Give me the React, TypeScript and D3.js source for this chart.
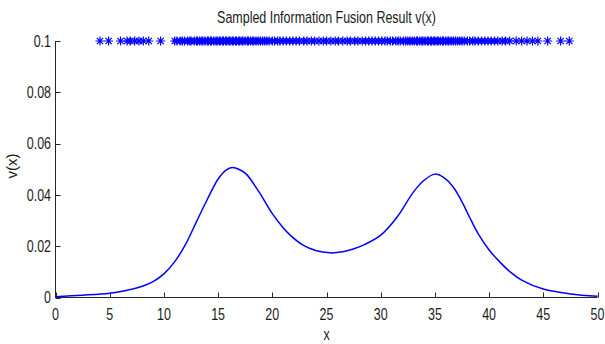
import React, { useEffect, useRef } from 'react';
import * as d3 from 'd3';

// fused density curve
const curveX = [0, 2.5, 5, 6.5, 8, 9, 10, 11, 12, 13, 14, 15, 15.7, 16.3, 17, 17.6, 18.8, 20, 21, 21.6, 22.8, 24, 25.3, 26.5, 27.4, 28.5, 30, 31.5, 33, 34, 35, 35.8, 36.7, 37.5, 38.2, 39, 40, 41, 42, 43, 45, 47.5, 50];
const curveV = [0.0003, 0.0009, 0.0017, 0.0027, 0.0044, 0.0062, 0.0092, 0.014, 0.0207, 0.0295, 0.0382, 0.0462, 0.0496, 0.0507, 0.0498, 0.0481, 0.041, 0.0327, 0.0272, 0.0245, 0.0205, 0.0183, 0.0174, 0.0178, 0.0188, 0.0206, 0.0243, 0.0313, 0.041, 0.0457, 0.0481, 0.0468, 0.043, 0.0373, 0.0313, 0.0248, 0.0185, 0.0138, 0.0098, 0.0068, 0.0033, 0.0014, 0.0005];

// sample locations drawn as asterisks at v = 0.1
const samples = [
  4.1, 4.9, 6.0, 6.6, 6.9, 7.3, 7.7, 8.1, 8.6, 9.7,
  11.0, 11.2, 11.5, 11.7, 11.9, 12.2, 12.4, 12.5, 12.8, 13.0, 13.1, 13.3, 13.5, 13.6, 13.8, 14.0, 14.1, 14.3, 14.4, 14.6, 14.8, 14.9,
  15.1, 15.2, 15.4, 15.5, 15.7, 15.8, 16.0, 16.1, 16.3, 16.4, 16.6, 16.7, 16.9, 17.0, 17.2, 17.3, 17.5, 17.7, 17.8, 18.0, 18.2, 18.3,
  18.5, 18.7, 18.9, 19.1, 19.3, 19.5, 19.7, 20.0, 20.2, 20.5, 20.7, 21.0, 21.3, 21.6, 21.9, 22.2, 22.5, 22.9, 23.2, 23.6, 23.9, 24.3,
  24.7, 25.0, 25.4, 25.8, 26.1, 26.5, 26.9, 27.2, 27.6, 27.9, 28.3, 28.6, 28.9, 29.2, 29.5, 29.8, 30.1, 30.4, 30.6, 30.9, 31.1, 31.4,
  31.6, 31.8, 32.1, 32.3, 32.5, 32.7, 32.9, 33.1, 33.3, 33.4, 33.6, 33.8, 33.9, 34.1, 34.3, 34.4, 34.6, 34.7, 34.9, 35.0, 35.2, 35.3,
  35.5, 35.7, 35.8, 36.0, 36.2, 36.3, 36.5, 36.7, 36.9, 37.1, 37.3, 37.5, 37.7, 38.0, 38.2, 38.5, 38.7, 39.0, 39.3, 39.6, 39.9, 40.2,
  40.5, 40.8, 41.2, 41.5, 41.9,
  42.5, 43.0, 43.5, 44.0, 44.5, 45.4, 46.6, 47.4
];
const sampleLevel = 0.1;

const xTicks = [0, 5, 10, 15, 20, 25, 30, 35, 40, 45, 50];
const yTicks = [0, 0.02, 0.04, 0.06, 0.08, 0.1];
const yTickLabels = ['0', '0.02', '0.04', '0.06', '0.08', '0.1'];

const FONT = '"Liberation Sans", Arial, sans-serif';
const SQUEEZE = 0.78; // glyphs in the picture are condensed

function App() {
  const ref = useRef<SVGSVGElement>(null);

  useEffect(() => {
    const width = 605, height = 344;
    const left = 55.5, right = 597.5, top = 41, bottom = 297.5;

    const svg = d3.select(ref.current);
    svg.selectAll('*').remove();

    const x = d3.scaleLinear().domain([0, 50]).range([left, right]);
    const y = d3.scaleLinear().domain([0, 0.1]).range([bottom, top]);

    // axes
    const ax = svg.append('g').attr('stroke', '#262626').attr('stroke-width', 1).attr('fill', 'none');
    ax.append('line').attr('x1', left).attr('x2', right).attr('y1', bottom).attr('y2', bottom);
    ax.append('line').attr('x1', left).attr('x2', left).attr('y1', top).attr('y2', bottom);
    ax.selectAll('.xt').data(xTicks).enter().append('line')
      .attr('x1', d => Math.round(x(d)) + 0.5).attr('x2', d => Math.round(x(d)) + 0.5)
      .attr('y1', bottom).attr('y2', bottom - 5);
    ax.selectAll('.yt').data(yTicks).enter().append('line')
      .attr('x1', left).attr('x2', left + 5)
      .attr('y1', d => Math.round(y(d)) + 0.5).attr('y2', d => Math.round(y(d)) + 0.5);

    const txt = svg.append('g').attr('font-family', FONT).attr('font-size', 16).attr('fill', '#1a1a1a');
    const put = (tx: number, ty: number, s: string, anchor: string) =>
      txt.append('text')
        .attr('transform', 'translate(' + tx + ',' + ty + ') scale(' + SQUEEZE + ',1)')
        .attr('text-anchor', anchor)
        .text(s);

    xTicks.forEach(d => put(x(d), 320, String(d), 'middle'));
    yTicks.forEach((d, i) => put(51, y(d) + 5.7, yTickLabels[i], 'end'));
    put((left + right) / 2, 340, 'x', 'middle');
    put((left + right) / 2, 23, 'Sampled Information Fusion Result v(x)', 'middle');

    txt.append('text').attr('transform', 'translate(17,166) rotate(-90)')
      .attr('font-size', 15).attr('text-anchor', 'middle').text('v(x)');

    // density curve
    const pts = curveX.map((d, i) => [d, curveV[i]] as [number, number]);
    const line = d3.line<[number, number]>()
      .x(d => x(d[0])).y(d => y(d[1]))
      .curve(d3.curveCatmullRom.alpha(0.5));
    svg.append('path').attr('d', line(pts))
      .attr('fill', 'none').attr('stroke', '#0000ff').attr('stroke-width', 1.5);

    // asterisk markers
    const r = 4.5, q = 3.2;
    const star = `M${-r},0H${r}M0,${-r}V${r}M${-q},${-q}L${q},${q}M${-q},${q}L${q},${-q}`;
    svg.append('g').selectAll('path').data(samples).enter().append('path')
      .attr('transform', d => 'translate(' + x(d) + ',' + y(sampleLevel) + ')')
      .attr('d', star)
      .attr('fill', 'none').attr('stroke', '#0000ff').attr('stroke-width', 1.2);

    svg.attr('width', width).attr('height', height);
  }, []);

  return (
    <div style={{ position: 'absolute', left: 0, top: 0, background: '#fff' }}>
      <svg ref={ref} width={605} height={344} style={{ display: 'block' }}></svg>
    </div>
  );
}

export default App;
